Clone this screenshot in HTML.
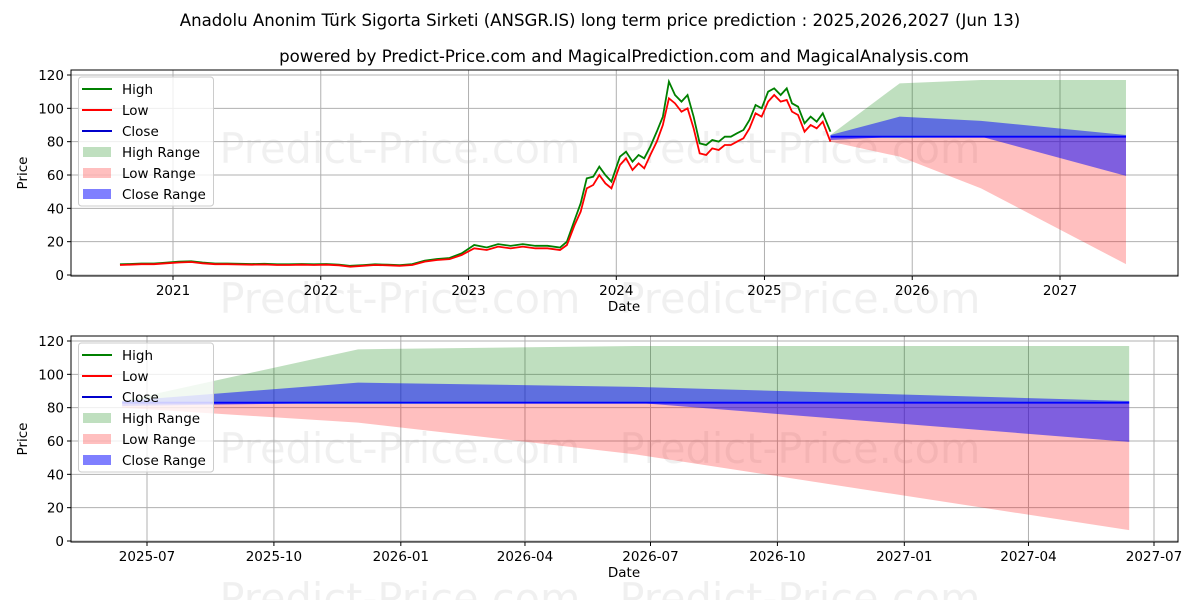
<!DOCTYPE html>
<html><head><meta charset="utf-8"><style>
body{margin:0;background:#fff;}
svg text{font-family:"DejaVu Sans","Liberation Sans",sans-serif;}
</style></head><body>
<svg id="c" width="1200" height="600" xmlns="http://www.w3.org/2000/svg">
<rect width="1200" height="600" fill="#fff"/>
<text x="600" y="26" text-anchor="middle" font-size="16.6">Anadolu Anonim Türk Sigorta Sirketi (ANSGR.IS) long term price prediction : 2025,2026,2027 (Jun 13)</text>
<text x="624" y="62" text-anchor="middle" font-size="16.6">powered by Predict-Price.com and MagicalPrediction.com and MagicalAnalysis.com</text>
</svg>
<script>
// historical data (2020-08 .. 2025-06)
const histDates=['2020-08-23','2020-09-15','2020-10-15','2020-11-15','2020-12-15','2021-01-15','2021-02-15','2021-03-15','2021-04-15','2021-05-15','2021-06-15','2021-07-15','2021-08-15','2021-09-15','2021-10-15','2021-11-15','2021-12-15','2022-01-15','2022-02-15','2022-03-15','2022-04-15','2022-05-15','2022-06-15','2022-07-15','2022-08-15','2022-09-15','2022-10-15','2022-11-15','2022-12-15','2023-01-15','2023-02-15','2023-03-15','2023-04-15','2023-05-15','2023-06-15','2023-07-15','2023-08-15','2023-09-01','2023-09-20','2023-10-05','2023-10-20','2023-11-05','2023-11-20','2023-12-05','2023-12-20','2024-01-10','2024-01-25','2024-02-10','2024-02-25','2024-03-10','2024-03-25','2024-04-10','2024-04-25','2024-05-10','2024-05-25','2024-06-10','2024-06-25','2024-07-10','2024-07-25','2024-08-10','2024-08-25','2024-09-10','2024-09-25','2024-10-10','2024-10-25','2024-11-10','2024-11-25','2024-12-10','2024-12-25','2025-01-10','2025-01-25','2025-02-10','2025-02-25','2025-03-10','2025-03-25','2025-04-10','2025-04-25','2025-05-10','2025-05-25','2025-06-13'];
const histLow=[6,6.2,6.5,6.5,7,7.5,7.8,7,6.5,6.5,6.3,6.2,6.3,6,6,6.2,6,6.2,5.8,5,5.5,6,5.8,5.5,6,8,9,9.5,12,16,15,17,16,17,16,16,15,18,30,38,52,54,60,55,52,66,70,63,67,64,72,80,90,106,103,98,100,88,73,72,76,75,78,78,80,82,88,97,95,104,108,104,105,98,96,86,90,88,92,80];
const histHigh=[6.4,6.6,6.9,6.9,7.4,8,8.2,7.5,6.9,6.9,6.7,6.6,6.7,6.4,6.4,6.6,6.4,6.6,6.2,5.5,5.9,6.4,6.2,5.9,6.5,8.6,9.6,10.2,13,18,16.5,18.5,17.5,18.5,17.5,17.5,16.5,20,33,43,58,59,65,60,56,71,74,68,72,70,77,86,95,116,108,104,108,95,79,78,81,80,83,83,85,87,93,102,100,110,112,108,112,103,101,91,95,92,97,86];
// forecast
const fcDates=['2025-06-13','2025-12-01','2026-06-20','2027-06-13'];
const fcHigh=[84,115,117,117];
const fcLow=[80,71,52,6.5];
const fcMid=[83,82,83,83];
const fcCloseHi=[84,95,92.5,84];
const fcCloseLo=[81,83,83,59.5];
const fcClose=[83,83,83,83];
const yTicks=[0,20,40,60,80,100,120];
const topTicks=['2021','2022','2023','2024','2025','2026','2027'];
const botTicks=['2025-07','2025-10','2026-01','2026-04','2026-07','2026-10','2027-01','2027-04','2027-07'];

const svg=document.getElementById('c');const NS='http://www.w3.org/2000/svg';
function mk(t,a,p){const e=document.createElementNS(NS,t);for(const k in a)e.setAttribute(k,a[k]);(p||svg).appendChild(e);return e;}
const day=s=>Date.parse(s)/86400000;
let pid=0;
function panel(cfg){
 const g=mk('g',{});
 
 
 const X=d=>cfg.x0+(day(d)-day(cfg.d0))*cfg.pxd;
 const Y=v=>cfg.y0-v*cfg.pyv;
 const L=71,R=1178,T=cfg.top,B=cfg.bot;
 const cid='clip'+(pid++);
 const cp=mk('clipPath',{id:cid},g);mk('rect',{x:L,y:T,width:R-L,height:B-T},cp);
 [[400,cfg.wm1],[800,cfg.wm1],[400,cfg.wm2],[800,cfg.wm2]].forEach(w=>{const t=mk('text',{x:w[0],y:w[1],'text-anchor':'middle','font-size':41.5,fill:'#000','fill-opacity':0.06},g);t.textContent='Predict-Price.com';
 
 });
 yTicks.forEach(v=>{mk('line',{x1:L,x2:R,y1:Y(v),y2:Y(v),stroke:'#b0b0b0','stroke-width':1},g);
  mk('line',{x1:L-4,x2:L,y1:Y(v),y2:Y(v),stroke:'#000'},g);
  const t=mk('text',{x:L-7,y:Y(v)+5,'text-anchor':'end','font-size':13.5},g);t.textContent=v;
  
  });
 cfg.ticks.forEach(s=>{const d=cfg.tickDate(s);const x=X(d);
  mk('line',{x1:x,x2:x,y1:T,y2:B,stroke:'#b0b0b0'},g);
  mk('line',{x1:x,x2:x,y1:B,y2:B+4,stroke:'#000'},g);
  const t=mk('text',{x:x,y:B+19,'text-anchor':'middle','font-size':13.5},g);t.textContent=s;
  
  });
 const pg=mk('g',{'clip-path':'url(#'+cid+')'},g);
 const area=(up,lo,col,op,nm)=>{let d='M'+fcDates.map((s,i)=>X(s)+','+Y(up[i])).join('L');
  for(let i=fcDates.length-1;i>=0;i--)d+='L'+X(fcDates[i])+','+Y(lo[i]);
  const p=mk('path',{d:d+'Z',fill:col,'fill-opacity':op},pg);
  
  };
 area(fcHigh,fcMid,'#008000',0.25,'high-range');
 area(fcMid,fcLow,'#ff0000',0.25,'low-range');
 area(fcCloseHi,fcCloseLo,'#0000ff',0.5,'close-range');
 const line=(ds,vs,col,nm)=>{const p=mk('polyline',{points:ds.map((s,i)=>X(s)+','+Y(vs[i])).join(' '),fill:'none',stroke:col,'stroke-width':1.8},pg);
  
  };
 if(cfg.hist){
  line(histDates,histHigh,'#008000','high-line');
  line(histDates,histLow,'#ff0000','low-line');
 }
 line(fcDates,fcClose,'#0000ff','close-line');
 mk('rect',{x:L,y:T,width:R-L,height:B-T,fill:'none',stroke:'#000','stroke-width':1},g);
 const yl=mk('text',{x:0,y:0,'font-size':13.5,'text-anchor':'middle',transform:`translate(27,${(T+B)/2}) rotate(-90)`},g);yl.textContent='Price';
 
 
 const xl=mk('text',{x:624,y:B+35,'font-size':13.5,'text-anchor':'middle'},g);xl.textContent='Date';
 
 
 const lg=mk('g',{},g);
 
 
 const ly=cfg.leg;
 mk('rect',{x:78.5,y:ly,width:135,height:129,rx:3,fill:'#fff','fill-opacity':0.8,stroke:'#ccc'},lg);
 const items=[['High','#008000','l'],['Low','#ff0000','l'],['Close','#0000cc','l'],['High Range','rgba(0,128,0,0.25)','b'],['Low Range','rgba(255,0,0,0.25)','b'],['Close Range','rgba(0,0,255,0.5)','b']];
 items.forEach((it,i)=>{const cy=ly+12+i*21;
  if(it[2]=='l')mk('line',{x1:82,x2:112,y1:cy,y2:cy,stroke:it[1],'stroke-width':2},lg);
  else mk('rect',{x:83,y:cy-5,width:28,height:10,fill:it[1]},lg);
  const t=mk('text',{x:122,y:cy+5,'font-size':13.5},lg);t.textContent=it[0];
  
  });
}
panel({name:'top-panel',hist:true,x0:173,d0:'2021-01-01',pxd:887/2191,y0:275,pyv:200/120,top:70,bot:276,wm1:163,wm2:313,leg:77,
 ticks:topTicks,tickDate:s=>s+'-01-01'});
panel({name:'bottom-panel',hist:false,x0:147,d0:'2025-07-01',pxd:1007/730,y0:541,pyv:200/120,top:336,bot:542,wm1:463,wm2:613,leg:343,
 ticks:botTicks,tickDate:s=>s+'-01'});
</script>
</body></html>
